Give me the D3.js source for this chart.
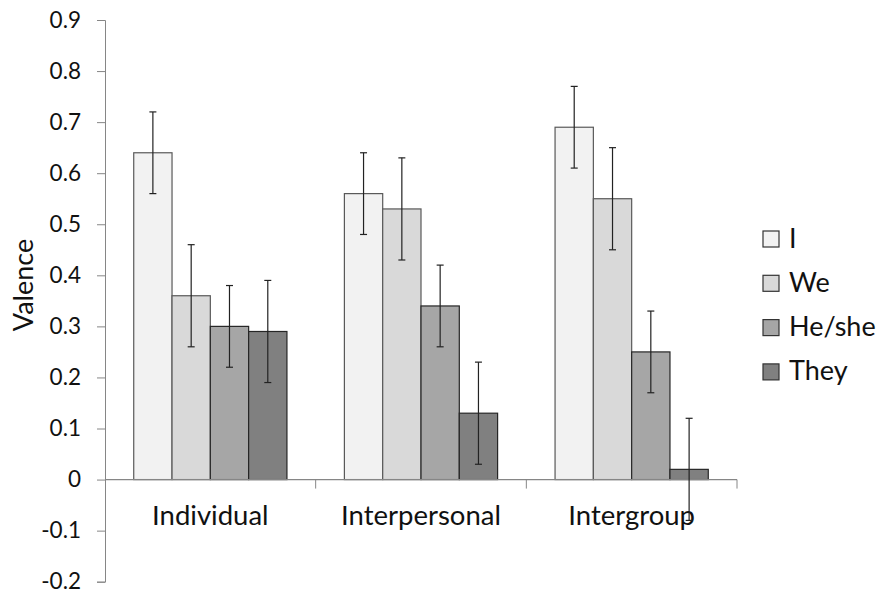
<!DOCTYPE html>
<html lang="en">
<head>
<meta charset="UTF-8">
<script src="https://cdnjs.cloudflare.com/ajax/libs/d3/7.8.5/d3.min.js"></script>
<style>
  body { margin: 0; background: #fff; }
  svg text { font-family: "Lato", "Open Sans", sans-serif; fill: #111; }
</style>
</head>
<body>
<svg id="chart" width="878" height="592"></svg>
<script>
    // chart data
    var categories = ["Individual", "Interpersonal", "Intergroup"];
    var series = ["I", "We", "He/she", "They"];
    var valI = [0.64, 0.56, 0.69];
    var valWe = [0.36, 0.53, 0.55];
    var valHe = [0.30, 0.34, 0.25];
    var valThey = [0.29, 0.13, 0.02];
    var errI = [0.08, 0.08, 0.08];
    var errWe = [0.10, 0.10, 0.10];
    var errHe = [0.08, 0.08, 0.08];
    var errThey = [0.10, 0.10, 0.10];
    var yTicks = [-0.2, -0.1, 0, 0.1, 0.2, 0.3, 0.4, 0.5, 0.6, 0.7, 0.8, 0.9];

    var fills = ["#f2f2f2", "#d9d9d9", "#a6a6a6", "#808080"];
    var strokes = ["#595959", "#595959", "#262626", "#262626"];
    var values = [valI, valWe, valHe, valThey];
    var errors = [errI, errWe, errHe, errThey];

    var rows = [];
    categories.forEach(function (c, ci) {
        series.forEach(function (s, si) {
            rows.push({cat: c, ser: s, si: si, v: values[si][ci], e: errors[si][ci]});
        });
    });

    var svg = d3.select("#chart");
    var axisColor = "#868686";

    var y = d3.scaleLinear().domain([-0.2, 0.9]).range([581.7, 20]);
    var x0 = d3.scaleBand().domain(categories).range([105, 737]);
    var x1 = d3.scaleBand().domain(series).range([0, x0.bandwidth()]).paddingOuter(0.75);

    // y axis
    var yAxis = svg.append("g")
        .attr("transform", "translate(105,0)")
        .call(d3.axisLeft(y).tickValues(yTicks).tickSize(8).tickPadding(16)
            .tickFormat(function (d) { return d === 0 ? "0" : d.toFixed(1); }));
    yAxis.select(".domain").attr("stroke", axisColor);
    yAxis.selectAll(".tick line").attr("stroke", axisColor);
    yAxis.selectAll(".tick text").style("font-size", "22.5px").attr("fill", "#111");

    // bars
    svg.append("g").selectAll("rect")
        .data(rows)
        .join("rect")
        .attr("x", function (d) { return x0(d.cat) + x1(d.ser); })
        .attr("width", x1.bandwidth())
        .attr("y", function (d) { return y(Math.max(0, d.v)); })
        .attr("height", function (d) { return Math.abs(y(d.v) - y(0)); })
        .attr("fill", function (d) { return fills[d.si]; })
        .attr("stroke", function (d) { return strokes[d.si]; })
        .attr("stroke-width", 1.2);

    // x axis line with category ticks
    svg.append("line")
        .attr("x1", 105).attr("x2", 737)
        .attr("y1", y(0)).attr("y2", y(0))
        .attr("stroke", axisColor).attr("stroke-width", 1.2);
    svg.append("g").selectAll("line")
        .data(categories)
        .join("line")
        .attr("x1", function (d) { return x0(d) + x0.bandwidth(); })
        .attr("x2", function (d) { return x0(d) + x0.bandwidth(); })
        .attr("y1", y(0)).attr("y2", y(0) + 9)
        .attr("stroke", axisColor);
    svg.append("g").selectAll("text")
        .data(categories)
        .join("text")
        .attr("x", function (d) { return x0(d) + x0.bandwidth() / 2; })
        .attr("y", 525)
        .attr("text-anchor", "middle")
        .style("font-size", "27.5px")
        .text(function (d) { return d; });

    // error bars
    var eb = svg.append("g").attr("stroke", "#222").attr("stroke-width", 1.2);
    rows.forEach(function (d) {
        var cx = x0(d.cat) + x1(d.ser) + x1.bandwidth() / 2;
        var top = y(d.v + d.e), bot = y(d.v - d.e);
        eb.append("line").attr("x1", cx).attr("x2", cx).attr("y1", top).attr("y2", bot);
        eb.append("line").attr("x1", cx - 3.5).attr("x2", cx + 3.5).attr("y1", top).attr("y2", top);
        eb.append("line").attr("x1", cx - 3.5).attr("x2", cx + 3.5).attr("y1", bot).attr("y2", bot);
    });

    // y title
    svg.append("text")
        .attr("transform", "translate(33,285) rotate(-90)")
        .attr("text-anchor", "middle")
        .style("font-size", "27px")
        .text("Valence");

    // legend
    var legend = svg.append("g").selectAll("g")
        .data(series)
        .join("g")
        .attr("transform", function (d, i) { return "translate(763," + (231 + i * 44.3) + ")"; });
    legend.append("rect")
        .attr("width", 16).attr("height", 16)
        .attr("fill", function (d, i) { return fills[i]; })
        .attr("stroke", "#333").attr("stroke-width", 1.2);
    legend.append("text")
        .attr("x", 26).attr("y", 16.5)
        .style("font-size", "27px")
        .text(function (d) { return d; });
</script>
</body>
</html>
